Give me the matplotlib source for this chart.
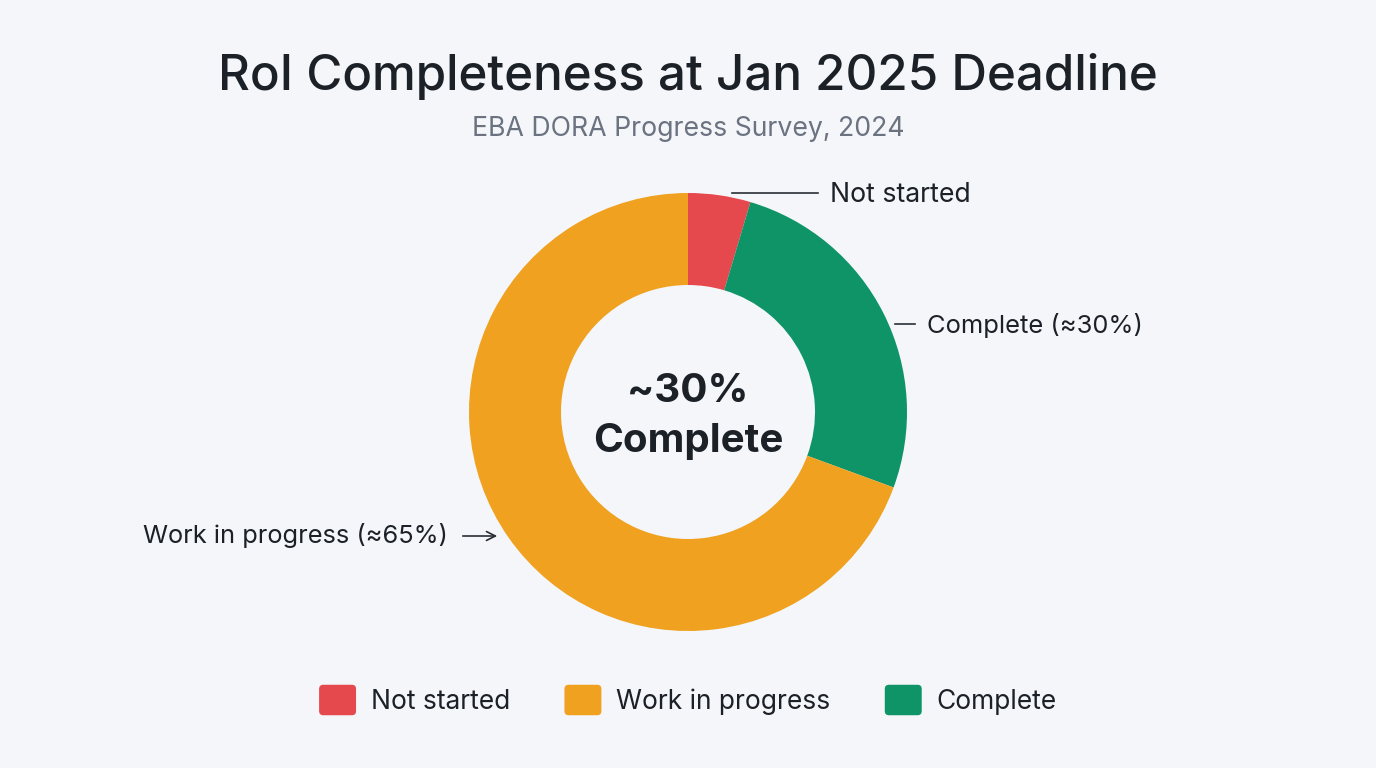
import matplotlib
matplotlib.use("Agg")
import matplotlib.pyplot as plt
from matplotlib.patches import Patch, FancyBboxPatch
from matplotlib.legend_handler import HandlerPatch

plt.rcParams['font.family'] = ['Inter', 'DejaVu Sans']

categories = ['Not started', 'Work in progress', 'Complete']
shares = [4.6, 69.4, 26.0]
colors = ['#E5484D', '#F0A11F', '#0E9467']
callouts = ['Not started', 'Work in progress (\u224865%)', 'Complete (\u224830%)']

BG = '#F4F6FA'
DARK = '#1C2128'

fig = plt.figure(figsize=(13.76, 7.68), dpi=100, facecolor=BG)
ax = fig.add_axes([0, 0, 1, 1])

# ring: clockwise from top -> Not started, Complete, Work in progress
order = [0, 2, 1]
cx, cy, r_out, ring_w = 688, 356, 219, 92
ax.pie([shares[i] for i in order], colors=[colors[i] for i in order],
       startangle=90, counterclock=False, center=(cx, cy), radius=r_out,
       wedgeprops=dict(width=ring_w, edgecolor='none'), frame=True)
ax.set_xlim(0, 1376)
ax.set_ylim(0, 768)
ax.set_aspect('equal')
ax.axis('off')

# centre text
ax.text(cx, cy + 21, '~30%', ha='center', va='center', fontsize=29,
        fontweight='bold', color=DARK)
ax.text(cx, cy - 29, 'Complete', ha='center', va='center', fontsize=29,
        fontweight='bold', color=DARK)

# callouts
line_c = '#2A2F36'
ax.plot([732, 818], [575, 575], color=line_c, lw=1.2)
ax.text(830, 573, callouts[0], ha='left', va='center', fontsize=19.2, color=DARK)

ax.plot([895, 915], [444, 444], color=line_c, lw=1.2)
ax.text(927, 443, callouts[2], ha='left', va='center', fontsize=18.4, color=DARK)

ax.annotate('', xy=(500, 232), xytext=(460, 232),
            arrowprops=dict(arrowstyle='->', color=line_c, lw=1.2,
                            mutation_scale=16))
ax.text(448, 232, callouts[1], ha='right', va='center', fontsize=18.3, color=DARK)

# titles
fig.text(0.5, 1 - 77 / 768, 'RoI Completeness at Jan 2025 Deadline', ha='center',
         va='center', fontsize=35.5, fontweight='medium', color=DARK)
fig.text(0.5, 1 - 129 / 768, 'EBA DORA Progress Survey, 2024', ha='center',
         va='center', fontsize=19.2, color='#6B7280')


class RoundHandler(HandlerPatch):
    def create_artists(self, legend, orig_handle, xdescent, ydescent,
                       width, height, fontsize, trans):
        p = FancyBboxPatch((-xdescent, -ydescent), width, height,
                           boxstyle='round,pad=0,rounding_size=3',
                           facecolor=orig_handle.get_facecolor(),
                           edgecolor='none', transform=trans)
        return [p]


handles = [Patch(facecolor=c, label=l) for c, l in zip(colors, categories)]
fig.legend(handles=handles, loc='center', bbox_to_anchor=(0.5, 1 - 700 / 768),
           ncol=3, frameon=False, fontsize=19, handlelength=1.4,
           handleheight=1.4, handletextpad=0.57, columnspacing=2.05,
           labelcolor=DARK, handler_map={Patch: RoundHandler()})

fig.savefig('out.png', dpi=100, facecolor=BG)
